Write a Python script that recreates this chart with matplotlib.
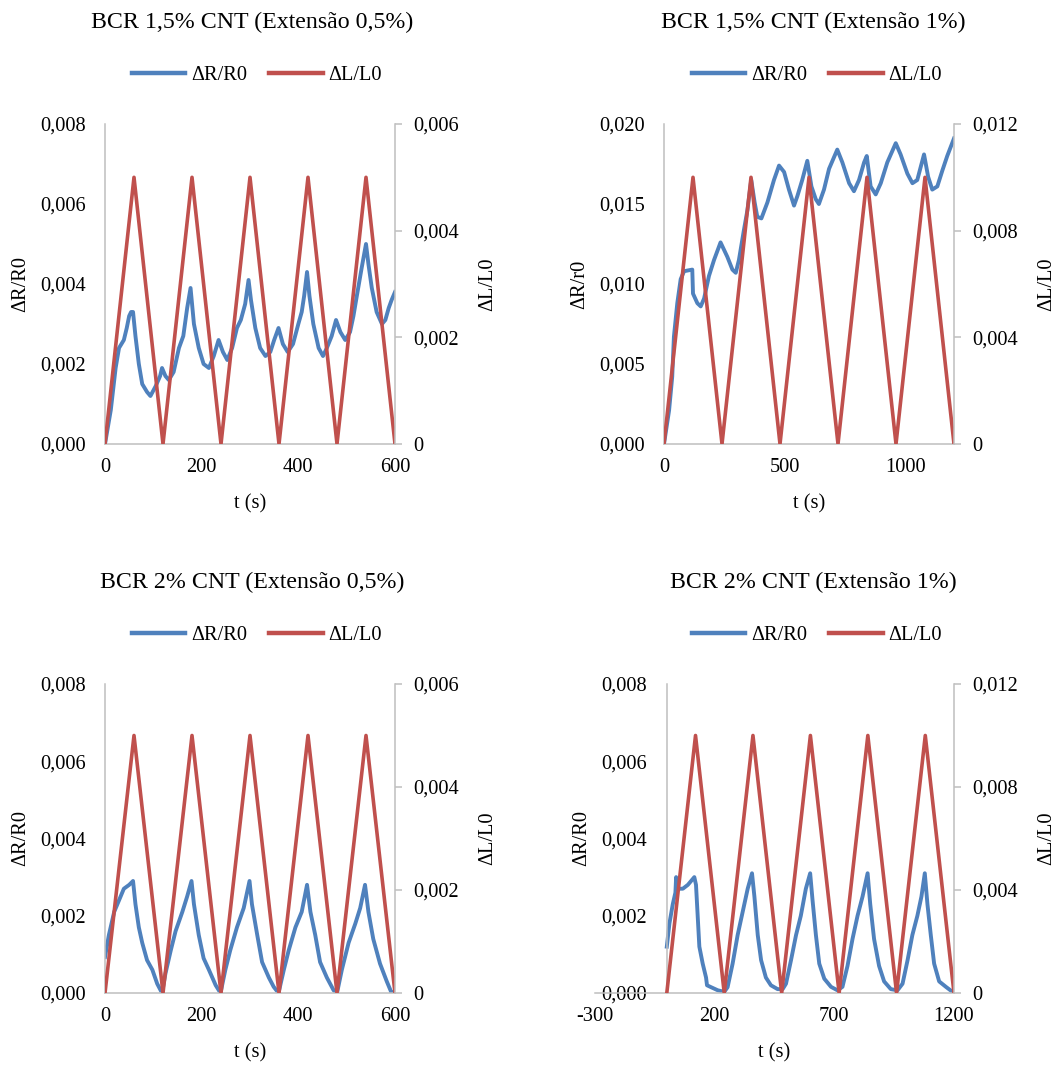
import matplotlib
matplotlib.use("Agg")
import matplotlib.pyplot as plt
from matplotlib.ticker import FuncFormatter
from matplotlib.lines import Line2D

plt.rcParams['font.family'] = ['Liberation Serif', 'DejaVu Serif']
plt.rcParams['axes.unicode_minus'] = False

BLUE = '#4F81BD'
RED = '#C0504D'
GRAY = '#BFBFBF'

titles = ["BCR 1,5% CNT (Extensão 0,5%)", "BCR 1,5% CNT (Extensão 1%)",
          "BCR 2% CNT (Extensão 0,5%)", "BCR 2% CNT (Extensão 1%)"]
left_labels = ["ΔR/R0", "ΔR/r0", "ΔR/R0", "ΔR/R0"]
legend_names = ["ΔR/R0", "ΔL/L0"]

# --- ΔL/L0 (triangle cycles) ---
t_red_600 = [0, 60, 120, 180, 240, 300, 360, 420, 480, 540, 600]
l_red_05 = [0, 0.005, 0, 0.005, 0, 0.005, 0, 0.005, 0, 0.005, 0]
t_red_1200 = [0, 120, 240, 360, 480, 600, 720, 840, 960, 1080, 1200]
l_red_1 = [0, 0.010, 0, 0.010, 0, 0.010, 0, 0.010, 0, 0.010, 0]

# --- ΔR/R0, BCR 1,5% CNT, extensão 0,5% ---
t_a = [0, 12, 22, 29, 39, 45, 50, 54, 58, 63, 70, 77, 87, 94, 105, 114, 118, 125, 132,
       142, 153, 162, 170, 177, 184, 194, 204, 215, 225, 235, 244, 253, 263, 273, 281,
       290, 297, 302, 311, 321, 332, 342, 350, 359, 368, 378, 389, 400, 407, 412, 418,
       423, 431, 442, 451, 459, 469, 478, 487, 497, 507, 514, 521, 531, 540, 545, 552,
       562, 573, 580, 587, 593, 600]
r_a = [0.0, 0.00085, 0.0019, 0.0024, 0.0026, 0.0029, 0.0032, 0.0033, 0.0033, 0.0027,
       0.0020, 0.0015, 0.0013, 0.0012, 0.00145, 0.0017, 0.0019, 0.0017, 0.0016, 0.0018,
       0.0024, 0.0027, 0.0034, 0.0039, 0.0030, 0.0024, 0.0020, 0.0019, 0.0022, 0.0026,
       0.0023, 0.0021, 0.0024, 0.0029, 0.0031, 0.0035, 0.0041, 0.0036, 0.0029, 0.0024,
       0.0022, 0.0023, 0.0026, 0.0029, 0.0025, 0.0023, 0.0025, 0.0030, 0.0033, 0.0037,
       0.0043, 0.0037, 0.0030, 0.0024, 0.0022, 0.0024, 0.0027, 0.0031, 0.0028, 0.0026,
       0.0028, 0.0032, 0.0037, 0.0044, 0.0050, 0.0045, 0.0039, 0.0033, 0.0030, 0.0031,
       0.0034, 0.0036, 0.0038]

# --- ΔR/r0, BCR 1,5% CNT, extensão 1% ---
t_b = [0, 21, 34, 41, 55, 69, 83, 117, 120, 138, 152, 166, 186, 207, 234, 262, 283, 297,
       310, 331, 345, 361, 375, 386, 403, 428, 455, 476, 497, 517, 538, 552, 572, 593,
       610, 628, 641, 662, 683, 717, 738, 766, 786, 807, 828, 839, 855, 876, 897, 924,
       959, 979, 1007, 1028, 1048, 1076, 1093, 1110, 1131, 1152, 1172, 1200]
r_b = [0.0, 0.0021, 0.0042, 0.0067, 0.0088, 0.0103, 0.0108, 0.0109, 0.0094, 0.0088,
       0.0086, 0.0091, 0.0105, 0.0115, 0.0126, 0.0117, 0.0109, 0.0107, 0.0115, 0.0134,
       0.0146, 0.0165, 0.0151, 0.0142, 0.0141, 0.0151, 0.0165, 0.0174, 0.0170, 0.0159,
       0.0149, 0.0155, 0.0165, 0.0177, 0.0161, 0.0153, 0.0150, 0.0159, 0.0172, 0.0184,
       0.0176, 0.0163, 0.0158, 0.0165, 0.0176, 0.0180, 0.0161, 0.0156, 0.0163, 0.0176,
       0.0188, 0.0181, 0.0169, 0.0163, 0.0165, 0.0181, 0.0167, 0.0159, 0.0161, 0.0171,
       0.0180, 0.0191]

# --- ΔR/R0, BCR 2% CNT, extensão 0,5% ---
t_c = [0, 8, 19, 29, 39, 50, 58, 63, 70, 77, 87, 98, 108, 118, 125, 136, 146, 160, 170,
       179, 184, 194, 204, 215, 229, 239, 249, 259, 273, 287, 299, 304, 315, 325, 339,
       349, 359, 370, 380, 394, 407, 418, 425, 435, 445, 459, 473, 480, 490, 504, 518,
       528, 538, 545, 555, 569, 583, 593, 600]
r_c = [0.00093, 0.0015, 0.0021, 0.0024, 0.0027, 0.0028, 0.0029, 0.0023, 0.0017, 0.0013,
       0.00085, 0.0006, 0.00024, 0.0, 0.0005, 0.0011, 0.0016, 0.0021, 0.0025, 0.0029,
       0.0023, 0.0015, 0.0009, 0.0006, 0.0002, 0.0, 0.0006, 0.0011, 0.0017, 0.0022,
       0.0029, 0.0023, 0.0015, 0.0008, 0.0004, 0.00016, 0.0, 0.0006, 0.0011, 0.0017,
       0.0021, 0.0028, 0.0021, 0.0015, 0.0008, 0.0004, 0.00007, 0.0, 0.0006, 0.0013,
       0.0018, 0.0022, 0.0028, 0.0021, 0.0014, 0.00076, 0.0003, 0.0, 0.00005]

# --- ΔR/R0, BCR 2% CNT, extensão 1% ---
t_d = [0, 11, 25, 36, 39, 46, 67, 88, 115, 122, 129, 136, 150, 164, 168, 185, 213, 240,
       254, 275, 296, 317, 338, 356, 366, 380, 394, 414, 435, 463, 484, 498, 519, 540,
       560, 581, 599, 609, 623, 637, 658, 686, 713, 734, 755, 776, 797, 818, 839, 850,
       866, 887, 908, 936, 964, 985, 1006, 1026, 1047, 1064, 1078, 1089, 1103, 1117,
       1138, 1166, 1200]
r_d = [0.0012, 0.0018, 0.0023, 0.0026, 0.0030, 0.0027, 0.0027, 0.0028, 0.0030, 0.0028,
       0.0020, 0.0012, 0.00076, 0.0004, 0.0002, 0.00015, 0.00007, 0.00003, 0.00015,
       0.00076, 0.0015, 0.0021, 0.0027, 0.0031, 0.0025, 0.0015, 0.00085, 0.0004, 0.0002,
       0.0001, 0.0001, 0.00024, 0.00085, 0.0015, 0.0020, 0.0027, 0.0031, 0.0024, 0.0015,
       0.00076, 0.00037, 0.00016, 0.00007, 0.00016, 0.0007, 0.0014, 0.0020, 0.0025,
       0.0031, 0.0023, 0.0014, 0.0007, 0.0003, 0.0001, 0.00007, 0.00024, 0.00085, 0.0015,
       0.0020, 0.0025, 0.0031, 0.0023, 0.0015, 0.00076, 0.0003, 0.00016, 0.0]

panels = [
  dict(t=t_a, r=r_a, tl=t_red_600, l=l_red_05, xlim=(0, 600), xticks=[0, 200, 400, 600],
       ylim=(0, 0.008), yticks=[0, 0.002, 0.004, 0.006, 0.008],
       y2lim=(0, 0.006), y2ticks=[0, 0.002, 0.004, 0.006]),
  dict(t=t_b, r=r_b, tl=t_red_1200, l=l_red_1, xlim=(0, 1200), xticks=[0, 500, 1000],
       ylim=(0, 0.020), yticks=[0, 0.005, 0.010, 0.015, 0.020],
       y2lim=(0, 0.012), y2ticks=[0, 0.004, 0.008, 0.012]),
  dict(t=t_c, r=r_c, tl=t_red_600, l=l_red_05, xlim=(0, 600), xticks=[0, 200, 400, 600],
       ylim=(0, 0.008), yticks=[0, 0.002, 0.004, 0.006, 0.008],
       y2lim=(0, 0.006), y2ticks=[0, 0.002, 0.004, 0.006]),
  dict(t=t_d, r=r_d, tl=t_red_1200, l=l_red_1, xlim=(-300, 1200), xticks=[-300, 200, 700, 1200],
       ylim=(0, 0.008), yticks=[0, 0.002, 0.004, 0.006, 0.008],
       y2lim=(0, 0.012), y2ticks=[0, 0.004, 0.008, 0.012]),
]

W, H = 1062, 1066
# axes boxes in pixels: left, top, right, bottom
boxes = [(105, 124, 395, 444), (664, 124, 954, 444),
         (105, 684, 395, 993), (595, 684, 954, 993)]
title_xy = [(252, 22), (813, 22), (252, 582), (813, 582)]
legend_xy = [(257, 75), (817, 75), (257, 635), (817, 635)]

FS = 14.7

fig = plt.figure(figsize=(W / 100, H / 100), dpi=100)

def fmt_left(v, pos):
  return ("%.3f" % v).replace('.', ',')

def fmt_right(v, pos):
  if abs(v) < 1e-12:
    return "0"
  return ("%.3f" % v).replace('.', ',')

for i, p in enumerate(panels):
  l, t, r, b = boxes[i]
  ax = fig.add_axes([l / W, 1 - b / H, (r - l) / W, (b - t) / H])
  ax.plot(p['t'], p['r'], color=BLUE, lw=2.8, solid_joinstyle='round')
  ax.set_xlim(*p['xlim'])
  ax.set_ylim(*p['ylim'])
  ax.set_xticks(p['xticks'])
  ax.set_yticks(p['yticks'])
  ax.yaxis.set_major_formatter(FuncFormatter(fmt_left))
  ax.tick_params(axis='both', length=0, labelsize=FS)
  ax.tick_params(axis='y', pad=14)
  ax.tick_params(axis='x', pad=10)
  for s in ['top', 'right']:
    ax.spines[s].set_visible(False)
  for s in ['left', 'bottom']:
    ax.spines[s].set_color(GRAY)
    ax.spines[s].set_linewidth(1.1)
  if p['xlim'][0] < 0:
    ax.spines['left'].set_position(('data', 0))
  ax.set_xlabel("t (s)", fontsize=FS)
  ax.xaxis.set_label_coords(0.5, -60 / (b - t))
  ax.xaxis.label.set_va('center')
  x0 = l if p['xlim'][0] >= 0 else 666
  ax.set_ylabel(left_labels[i], fontsize=FS, va='center')
  ax.yaxis.set_label_coords((x0 - 84 - l) / (r - l), 0.5)

  ax2 = ax.twinx()
  ax2.plot(p['tl'], p['l'], color=RED, lw=2.6)
  ax2.set_ylim(*p['y2lim'])
  ax2.set_yticks(p['y2ticks'])
  ax2.yaxis.set_major_formatter(FuncFormatter(fmt_right))
  ax2.tick_params(axis='y', direction='out', length=5, width=1.1, color=GRAY,
                  labelsize=FS, pad=8)
  for s in ['top', 'left', 'bottom']:
    ax2.spines[s].set_visible(False)
  ax2.spines['right'].set_color(GRAY)
  ax2.spines['right'].set_linewidth(1.1)
  ax2.set_ylabel("ΔL/L0", fontsize=FS, va='center')
  ax2.yaxis.set_label_coords((r + 93 - l) / (r - l), 0.5)

  fig.text(title_xy[i][0] / W, 1 - title_xy[i][1] / H, titles[i], fontsize=17.2,
           ha='center', va='center')
  handles = [Line2D([], [], color=BLUE, lw=3.2), Line2D([], [], color=RED, lw=3.2)]
  ax2.legend(handles, legend_names, loc='center', ncol=2, frameon=False, fontsize=FS,
             bbox_to_anchor=(legend_xy[i][0] / W, 1 - legend_xy[i][1] / H),
             bbox_transform=fig.transFigure, handlelength=2.6, handletextpad=0.3,
             columnspacing=1.1)

fig.savefig("out.png", dpi=100)
